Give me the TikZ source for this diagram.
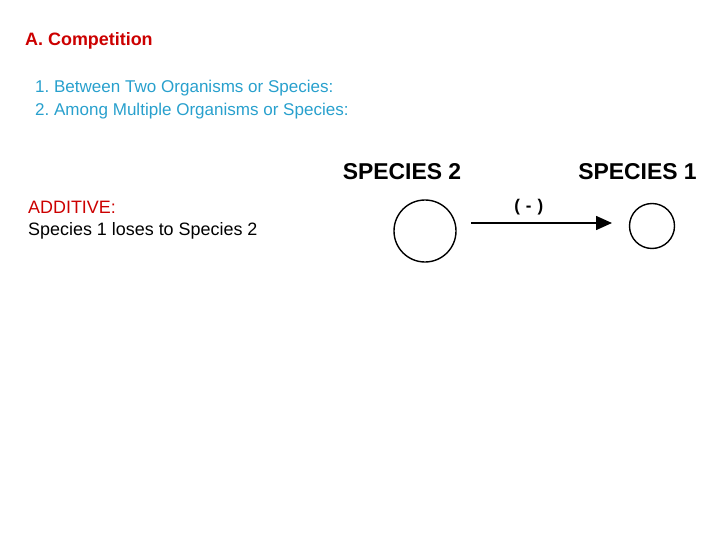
\documentclass[tikz,border=0pt]{standalone}
\usepackage{fontspec}
\setmainfont{Liberation Sans}
\usetikzlibrary{arrows.meta}

\definecolor{titlered}{RGB}{204,0,0}
\definecolor{listblue}{RGB}{40,160,205}

\begin{document}
\frenchspacing
\begin{tikzpicture}[x=1bp,y=-1bp]

      \useasboundingbox (0,0) rectangle (720,540);

      \begin{scope}[every node/.style={anchor=base west,inner sep=0pt}]
        \node[titlered,font=\fontsize{18}{20}\selectfont\bfseries] (title) at (25,46) {A. Competition};
        \node[listblue,font=\fontsize{17.1}{20}\selectfont] (item1) at (35,93) {1. Between Two Organisms or Species:};
        \node[listblue,font=\fontsize{17.1}{20}\selectfont] (item2) at (35,116) {2. Among Multiple Organisms or Species:};
        \node[titlered,font=\fontsize{18}{20}\selectfont] (kind) at (28,214) {ADDITIVE:};
        \node[font=\fontsize{18}{20}\selectfont] (note) at (28,236) {Species 1 loses to Species 2};
      \end{scope}

      \begin{scope}[every node/.style={anchor=base,inner sep=0pt,font=\fontsize{23}{26}\selectfont\bfseries}]
        \node (lab2) at (402,180) {SPECIES 2};
        \node (lab1) at (637.5,180) {SPECIES 1};
      \end{scope}

      \begin{scope}[every node/.style={circle,draw,line width=1.4pt,inner sep=0pt}]
        \node[minimum size=62bp] (sp2) at (425,231) {};
        \node[minimum size=45bp] (sp1) at (652,226) {};
      \end{scope}

      \coordinate (from) at (471,223);
      \coordinate (to)   at (612,223);
      \draw[line width=1.6pt,-{Triangle[length=16bp,width=14bp]}] (from) -- (to)
        node[pos=0.41,above=4bp,font=\fontsize{17}{20}\selectfont\bfseries] (sign) {(\hspace{6bp}-\hspace{6bp})};

    \end{tikzpicture}
\end{document}
